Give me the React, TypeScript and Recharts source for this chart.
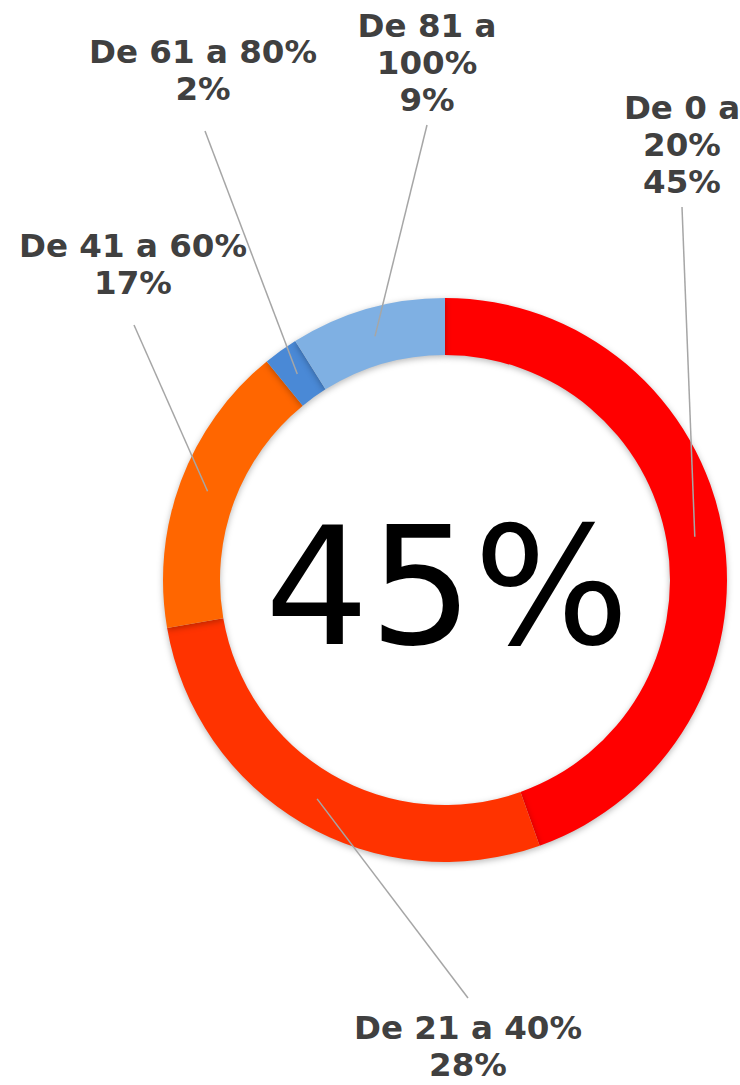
import { PieChart, Pie, Cell, Label } from "recharts";

const CATEGORIES = ["De 0 a 20%", "De 21 a 40%", "De 41 a 60%", "De 61 a 80%", "De 81 a 100%"];
const SHARES = [45, 28, 17, 2, 9];
const COLORS = ["#FF0000", "#FF3300", "#FF6600", "#4A89D6", "#7FB0E3"];

// where each category name wraps, and where its label sits (first baseline + line end)
const LABEL_LINES = [
  ["De 0 a", "20%"],
  ["De 21 a 40%"],
  ["De 41 a 60%"],
  ["De 61 a 80%"],
  ["De 81 a", "100%"],
];
const LABEL_LAYOUT = [
  { x: 682, y: 119, endX: 682, endY: 207 },
  { x: 468, y: 1039, endX: 468, endY: 998 },
  { x: 133, y: 257, endX: 134, endY: 325 },
  { x: 203, y: 63, endX: 205, endY: 131 },
  { x: 427, y: 37, endX: 427, endY: 125 },
];

const PIE_CX = 445;
const PIE_CY = 580;
const LINE_GAP = 37;
const RAD = Math.PI / 180;
const LABEL_FONT = "'DejaVu Sans', Verdana, sans-serif";

const chartData = CATEGORIES.map((name, i) => ({ name, value: SHARES[i] }));

function SliceLabel(props: any) {
  const { cx, cy, midAngle, innerRadius, outerRadius, index } = props;
  const r = (innerRadius + outerRadius) / 2;
  const sx = cx + r * Math.cos(-midAngle * RAD);
  const sy = cy + r * Math.sin(-midAngle * RAD);
  const pos = LABEL_LAYOUT[index];
  const lines = [...LABEL_LINES[index], `${SHARES[index]}%`];
  return (
    <g>
      <line x1={sx} y1={sy} x2={pos.endX} y2={pos.endY} stroke="#A6A6A6" strokeWidth={1.5} />
      <text
        x={pos.x}
        y={pos.y}
        textAnchor="middle"
        fill="#404040"
        fontFamily={LABEL_FONT}
        fontWeight="bold"
        fontSize={32.5}
      >
        {lines.map((t, i) => (
          <tspan key={i} x={pos.x} y={pos.y + i * LINE_GAP}>
            {t}
          </tspan>
        ))}
      </text>
    </g>
  );
}

function CenterLabel() {
  return (
    <text
      x={PIE_CX + 2}
      y={PIE_CY + 64}
      textAnchor="middle"
      fill="#000000"
      fontFamily={LABEL_FONT}
      fontSize={164}
    >
      {`${SHARES[0]}%`}
    </text>
  );
}

export default function App() {
  return (
    <div style={{ width: 740, height: 1085, background: "#fff" }}>
      <style>{`body{margin:0}.recharts-pie-sector path{filter:drop-shadow(0 2px 3px rgba(0,0,0,0.28));}`}</style>
      <PieChart width={740} height={1085} margin={{ top: 0, right: 0, bottom: 0, left: 0 }}>
        <Pie
          data={chartData}
          dataKey="value"
          nameKey="name"
          cx={PIE_CX}
          cy={PIE_CY}
          innerRadius={225}
          outerRadius={282}
          startAngle={90}
          endAngle={-270}
          stroke="none"
          label={SliceLabel}
          labelLine={false}
          isAnimationActive={false}
        >
          {chartData.map((d, i) => (
            <Cell key={d.name} fill={COLORS[i]} />
          ))}
          <Label position="center" content={CenterLabel} />
        </Pie>
      </PieChart>
    </div>
  );
}
